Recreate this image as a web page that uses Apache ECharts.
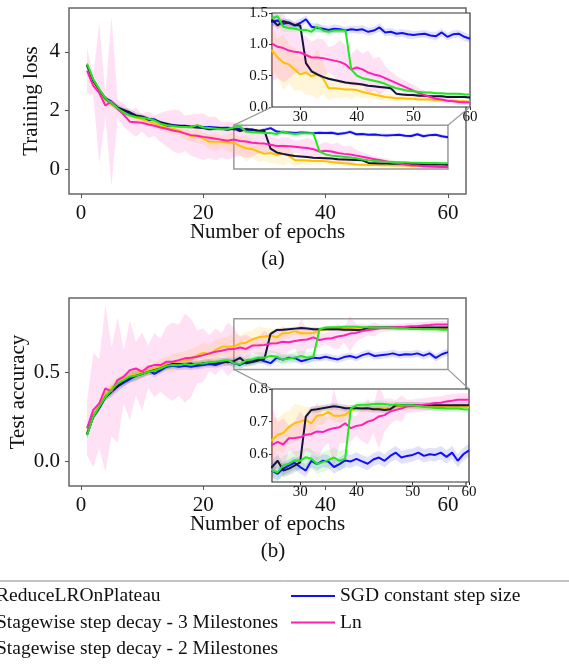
<!DOCTYPE html>
<html>
<head>
<meta charset="utf-8">
<script src="https://cdn.jsdelivr.net/npm/echarts@6/dist/echarts.min.js"></script>
<style>
  html, body { margin: 0; padding: 0; background: #fff; }
  #main { width: 569px; height: 667px; }
</style>
</head>
<body>
<div id="main"></div>
<script>
// names of the five schedules
const names = [
  "ReduceLROnPlateau",
  "Stagewise step decay - 3 Milestones",
  "Stagewise step decay - 2 Milestones",
  "SGD constant step size",
  "Ln"
];
const colors = ["#ffc000", "#14143c", "#22e622", "#1010f0", "#ff1fb4"];
const bandColors = [
  "rgba(255,200,40,0.18)", "rgba(40,40,60,0.15)", "rgba(40,230,40,0.15)",
  "rgba(40,40,240,0.14)", "rgba(255,80,200,0.17)"
];

// (a) training loss, epochs 1..60
const lossRLR = [3.5,3.0,2.68,2.35,2.22,2.08,1.94,1.82,1.76,1.7,1.62,1.56,1.48,1.42,1.38,1.32,1.22,1.12,1.14,1.04,0.93,0.93,0.93,0.9,0.9,0.79,0.71,0.68,0.6,0.52,0.55,0.49,0.52,0.46,0.3,0.3,0.29,0.28,0.28,0.27,0.24,0.22,0.2,0.18,0.16,0.15,0.14,0.14,0.13,0.13,0.12,0.12,0.12,0.11,0.11,0.1,0.1,0.09,0.09,0.08];
const lossS3 = [3.55,3.02,2.7,2.4,2.25,2.1,2.02,1.94,1.83,1.8,1.72,1.68,1.6,1.55,1.5,1.48,1.46,1.44,1.42,1.4,1.36,1.38,1.38,1.34,1.39,1.3,1.37,1.34,1.31,1.3,0.7,0.57,0.52,0.48,0.45,0.43,0.41,0.39,0.38,0.37,0.36,0.34,0.33,0.32,0.31,0.3,0.21,0.2,0.19,0.19,0.18,0.18,0.17,0.17,0.17,0.16,0.16,0.16,0.16,0.15];
const lossS2 = [3.6,3.07,2.73,2.42,2.25,2.08,1.92,1.83,1.78,1.75,1.72,1.66,1.55,1.5,1.47,1.45,1.44,1.43,1.5,1.42,1.4,1.38,1.36,1.37,1.42,1.45,1.28,1.26,1.25,1.23,1.23,1.2,1.28,1.22,1.2,1.22,1.22,1.22,0.6,0.5,0.46,0.44,0.42,0.4,0.37,0.33,0.3,0.28,0.26,0.25,0.24,0.23,0.23,0.22,0.22,0.21,0.21,0.21,0.2,0.2];
const lossSGD = [3.55,3.05,2.7,2.42,2.3,2.1,2.0,1.88,1.8,1.75,1.66,1.7,1.58,1.48,1.5,1.47,1.48,1.45,1.47,1.43,1.44,1.42,1.4,1.41,1.36,1.38,1.33,1.35,1.3,1.34,1.4,1.28,1.26,1.25,1.23,1.25,1.24,1.22,1.24,1.23,1.24,1.2,1.22,1.27,1.19,1.2,1.17,1.18,1.16,1.15,1.16,1.17,1.14,1.13,1.19,1.12,1.16,1.17,1.12,1.09];
const lossLn = [3.36,2.85,2.6,2.17,2.31,2.06,1.85,1.62,1.6,1.58,1.52,1.48,1.42,1.38,1.32,1.28,1.22,1.16,1.14,1.1,1.07,1.04,1.0,0.97,1.01,0.96,0.94,0.9,0.88,0.87,0.83,0.79,0.79,0.78,0.76,0.74,0.72,0.68,0.6,0.63,0.6,0.55,0.52,0.5,0.46,0.42,0.38,0.34,0.3,0.26,0.22,0.19,0.16,0.13,0.12,0.1,0.09,0.08,0.075,0.07];

// (a) spread around each loss curve
const lossStdRLR = [0.1,0.1,0.12,0.1,0.12,0.1,0.12,0.1,0.12,0.1,0.15,0.12,0.18,0.15,0.2,0.15,0.2,0.18,0.25,0.2,0.25,0.3,0.2,0.3,0.35,0.3,0.45,0.3,0.35,0.25,0.35,0.3,0.4,0.25,0.2,0.15,0.15,0.12,0.15,0.1,0.1,0.08,0.08,0.07,0.06,0.05,0.05,0.04,0.04,0.04,0.03,0.03,0.03,0.03,0.03,0.02,0.02,0.02,0.02,0.02];
const lossStdS3 = [0.05,0.05,0.06,0.08,0.1,0.12,0.1,0.12,0.1,0.08,0.08,0.07,0.06,0.06,0.05,0.05,0.05,0.05,0.05,0.05,0.05,0.05,0.05,0.05,0.08,0.06,0.05,0.05,0.04,0.04,0.03,0.03,0.03,0.02,0.02,0.02,0.02,0.02,0.02,0.02,0.02,0.02,0.02,0.02,0.02,0.02,0.02,0.02,0.02,0.02,0.02,0.02,0.02,0.02,0.02,0.02,0.02,0.02,0.02,0.02];
const lossStdS2 = [0.05,0.05,0.05,0.06,0.08,0.08,0.07,0.06,0.06,0.06,0.05,0.05,0.05,0.05,0.05,0.05,0.05,0.05,0.06,0.05,0.05,0.05,0.05,0.05,0.06,0.15,0.08,0.06,0.05,0.05,0.05,0.05,0.08,0.05,0.05,0.05,0.04,0.04,0.03,0.03,0.02,0.02,0.02,0.02,0.02,0.02,0.02,0.02,0.02,0.02,0.02,0.02,0.02,0.02,0.02,0.02,0.02,0.02,0.02,0.02];
const lossStdSGD = [0.05,0.05,0.05,0.06,0.08,0.08,0.07,0.06,0.06,0.06,0.05,0.05,0.05,0.05,0.05,0.05,0.05,0.05,0.05,0.05,0.05,0.05,0.06,0.06,0.06,0.06,0.06,0.06,0.06,0.07,0.06,0.06,0.07,0.06,0.06,0.07,0.06,0.06,0.06,0.06,0.07,0.06,0.06,0.07,0.06,0.06,0.06,0.06,0.07,0.06,0.06,0.06,0.06,0.07,0.06,0.06,0.06,0.06,0.07,0.06];
const lossStdLn = [0.8,0.3,2.4,0.4,2.9,0.3,0.4,0.35,0.5,0.3,0.45,0.35,0.5,0.6,0.7,0.75,0.6,0.7,0.75,0.8,0.7,0.75,0.6,0.65,0.6,0.5,0.55,0.45,0.35,0.3,0.3,0.25,0.3,0.3,0.2,0.25,0.35,0.3,0.25,0.3,0.25,0.35,0.25,0.3,0.2,0.15,0.12,0.1,0.1,0.1,0.08,0.07,0.06,0.05,0.05,0.05,0.04,0.04,0.04,0.04];

// (b) test accuracy, epochs 1..60
const accRLR = [0.16,0.26,0.31,0.38,0.41,0.44,0.46,0.48,0.49,0.5,0.51,0.52,0.53,0.545,0.55,0.56,0.565,0.57,0.595,0.608,0.6,0.624,0.642,0.642,0.643,0.66,0.665,0.683,0.695,0.7,0.705,0.695,0.718,0.72,0.73,0.718,0.718,0.72,0.735,0.74,0.742,0.742,0.742,0.742,0.74,0.742,0.745,0.745,0.745,0.745,0.745,0.745,0.745,0.745,0.745,0.745,0.745,0.745,0.745,0.745];
const accS3 = [0.15,0.25,0.3,0.36,0.39,0.42,0.45,0.47,0.48,0.49,0.5,0.51,0.52,0.535,0.545,0.545,0.545,0.548,0.54,0.55,0.552,0.548,0.56,0.555,0.561,0.58,0.55,0.556,0.565,0.575,0.715,0.736,0.738,0.741,0.744,0.747,0.745,0.741,0.741,0.741,0.74,0.741,0.738,0.738,0.736,0.738,0.75,0.75,0.75,0.75,0.75,0.75,0.75,0.75,0.75,0.75,0.75,0.75,0.75,0.75];
const accS2 = [0.145,0.249,0.305,0.36,0.4,0.436,0.455,0.474,0.48,0.49,0.5,0.508,0.52,0.535,0.54,0.538,0.545,0.54,0.548,0.548,0.555,0.558,0.562,0.567,0.55,0.545,0.566,0.571,0.581,0.58,0.591,0.586,0.57,0.576,0.582,0.59,0.58,0.586,0.74,0.75,0.752,0.752,0.754,0.755,0.754,0.752,0.752,0.75,0.75,0.75,0.748,0.745,0.744,0.742,0.742,0.74,0.74,0.74,0.738,0.737];
const accSGD = [0.15,0.25,0.3,0.36,0.39,0.42,0.44,0.46,0.48,0.49,0.51,0.49,0.51,0.53,0.535,0.53,0.535,0.53,0.535,0.54,0.545,0.54,0.55,0.56,0.55,0.54,0.556,0.565,0.574,0.561,0.55,0.58,0.57,0.58,0.578,0.561,0.57,0.581,0.578,0.586,0.578,0.571,0.584,0.59,0.58,0.595,0.605,0.59,0.595,0.598,0.605,0.595,0.6,0.598,0.605,0.592,0.605,0.58,0.6,0.612];
const accLn = [0.184,0.286,0.324,0.408,0.39,0.455,0.474,0.511,0.52,0.502,0.53,0.539,0.539,0.558,0.558,0.567,0.577,0.58,0.586,0.595,0.605,0.614,0.62,0.628,0.629,0.638,0.63,0.649,0.65,0.652,0.66,0.662,0.67,0.668,0.675,0.68,0.683,0.695,0.68,0.687,0.69,0.7,0.705,0.716,0.72,0.731,0.736,0.74,0.747,0.748,0.75,0.752,0.754,0.757,0.758,0.762,0.764,0.767,0.767,0.767];

// (b) spread around each accuracy curve
const accStdRLR = [0.02,0.03,0.03,0.03,0.03,0.03,0.03,0.03,0.03,0.03,0.03,0.03,0.04,0.04,0.05,0.05,0.05,0.06,0.05,0.06,0.05,0.06,0.05,0.06,0.07,0.05,0.06,0.05,0.06,0.05,0.04,0.05,0.03,0.03,0.02,0.02,0.02,0.02,0.01,0.01,0.01,0.01,0.01,0.01,0.01,0.01,0.01,0.01,0.01,0.01,0.01,0.01,0.01,0.01,0.01,0.01,0.01,0.01,0.01,0.01];
const accStdS3 = [0.02,0.02,0.02,0.02,0.03,0.03,0.03,0.03,0.03,0.02,0.02,0.02,0.02,0.02,0.02,0.02,0.02,0.02,0.02,0.02,0.02,0.02,0.02,0.02,0.02,0.02,0.02,0.02,0.02,0.02,0.01,0.01,0.01,0.01,0.01,0.01,0.01,0.01,0.01,0.01,0.01,0.01,0.01,0.01,0.01,0.01,0.01,0.01,0.01,0.01,0.01,0.01,0.01,0.01,0.01,0.01,0.01,0.01,0.01,0.01];
const accStdS2 = [0.02,0.02,0.02,0.02,0.03,0.03,0.03,0.03,0.03,0.02,0.02,0.02,0.02,0.02,0.02,0.02,0.02,0.02,0.02,0.02,0.02,0.02,0.02,0.02,0.03,0.03,0.03,0.03,0.03,0.03,0.03,0.03,0.03,0.03,0.03,0.03,0.03,0.03,0.01,0.01,0.01,0.01,0.01,0.01,0.01,0.01,0.01,0.01,0.01,0.01,0.01,0.01,0.01,0.01,0.01,0.01,0.01,0.01,0.01,0.01];
const accStdSGD = [0.02,0.02,0.02,0.02,0.02,0.02,0.02,0.02,0.02,0.02,0.02,0.02,0.02,0.02,0.02,0.02,0.02,0.02,0.02,0.02,0.02,0.02,0.02,0.02,0.02,0.02,0.02,0.02,0.02,0.02,0.02,0.02,0.02,0.02,0.02,0.02,0.02,0.02,0.02,0.02,0.02,0.02,0.02,0.02,0.02,0.02,0.02,0.02,0.02,0.02,0.02,0.02,0.02,0.02,0.02,0.02,0.02,0.02,0.02,0.02];
const accStdLn = [0.15,0.32,0.25,0.47,0.25,0.35,0.15,0.28,0.15,0.22,0.12,0.18,0.15,0.2,0.22,0.2,0.25,0.22,0.15,0.15,0.1,0.13,0.1,0.15,0.12,0.06,0.08,0.04,0.05,0.08,0.05,0.06,0.09,0.05,0.04,0.12,0.05,0.06,0.04,0.03,0.05,0.07,0.04,0.1,0.05,0.04,0.03,0.04,0.02,0.02,0.02,0.02,0.02,0.02,0.02,0.02,0.02,0.02,0.02,0.02];

const lossMeans = [lossRLR, lossS3, lossS2, lossSGD, lossLn];
const lossStds = [lossStdRLR, lossStdS3, lossStdS2, lossStdSGD, lossStdLn];
const accMeans = [accRLR, accS3, accS2, accSGD, accLn];
const accStds = [accStdRLR, accStdS3, accStdS2, accStdSGD, accStdLn];

// axis ranges / ticks
const epochRange = [-1.95, 62.95];
const epochTicks = [0, 20, 40, 60];
const lossRange = [-0.85, 5.5];
const lossTicks = [0, 2, 4];
const accRange = [-0.14, 0.916];
const accTicks = [0, 0.5];
const zoomEpochs = [25, 60];
const zoomEpochTicks = [30, 40, 50, 60];
const zoomLoss = [0, 1.5];
const zoomLossTicks = [0, 0.5, 1.0, 1.5];
const zoomAcc = [0.515, 0.8];
const zoomAccTicks = [0.6, 0.7, 0.8];

const FONT = "Liberation Serif";
const drawOrder = [3, 0, 1, 4, 2]; // which curve goes on top

function xAxisMain(gi) {
  return {
    type: "value", gridIndex: gi, min: epochRange[0], max: epochRange[1],
    name: "Number of epochs", nameLocation: "middle", nameGap: 28, nameMoveOverlap: false,
    nameTextStyle: { fontFamily: FONT, fontSize: 21, color: "#111" },
    axisLine: { show: false, onZero: false },
    axisTick: { show: true, length: 4, customValues: epochTicks, lineStyle: { color: "#555" } },
    axisLabel: { customValues: epochTicks, fontFamily: FONT, fontSize: 21, color: "#111", margin: 9 },
    splitLine: { show: false }
  };
}
function yAxisMain(gi, range, ticks, title, gap, fmt) {
  return {
    type: "value", gridIndex: gi, min: range[0], max: range[1],
    name: title, nameLocation: "middle", nameGap: gap, nameMoveOverlap: false,
    nameTextStyle: { fontFamily: FONT, fontSize: 21, color: "#111" },
    axisLine: { show: false, onZero: false },
    axisTick: { show: true, length: 4, customValues: ticks, lineStyle: { color: "#555" } },
    axisLabel: { customValues: ticks, fontFamily: FONT, fontSize: 21, color: "#111", margin: 9, formatter: fmt },
    splitLine: { show: false }
  };
}
function xAxisInset(gi) {
  return {
    type: "value", gridIndex: gi, min: zoomEpochs[0], max: zoomEpochs[1], z: 8,
    axisLine: { show: false, onZero: false },
    axisTick: { show: true, length: 3, customValues: zoomEpochTicks, lineStyle: { color: "#333" } },
    axisLabel: { customValues: zoomEpochTicks, fontFamily: FONT, fontSize: 15, color: "#111", margin: 3 },
    splitLine: { show: false }
  };
}
function yAxisInset(gi, range, ticks) {
  return {
    type: "value", gridIndex: gi, min: range[0], max: range[1], z: 8,
    axisLine: { show: false, onZero: false },
    axisTick: { show: true, length: 3, customValues: ticks, lineStyle: { color: "#333" } },
    axisLabel: { customValues: ticks, fontFamily: FONT, fontSize: 15, color: "#111", margin: 4,
      formatter: v => v.toFixed(1) },
    splitLine: { show: false }
  };
}

// shaded band (mean ± spread) as one polygon through the axis scales
function band(k, means, stds, axisIdx, z) {
  const m = means[k], s = stds[k];
  return {
    type: "custom", xAxisIndex: axisIdx, yAxisIndex: axisIdx, z: z, silent: true, clip: true,
    data: [[1, m[0]]],
    renderItem: function (params, api) {
      const upper = m.map((v, i) => api.coord([i + 1, v + s[i]]));
      const lower = m.map((v, i) => api.coord([i + 1, v - s[i]])).reverse();
      return {
        type: "polygon",
        shape: { points: upper.concat(lower) },
        style: { fill: bandColors[k], stroke: null }
      };
    }
  };
}
function lines(means, axisIdx, z, mark) {
  return drawOrder.map((k, j) => {
    const s = {
      name: names[k], type: "line", xAxisIndex: axisIdx, yAxisIndex: axisIdx,
      data: means[k].map((v, i) => [i + 1, v]),
      symbol: "none", color: colors[k],
      lineStyle: { width: 2, color: colors[k] }, z: z + 1
    };
    if (mark && j === 0) s.markArea = mark;
    return s;
  });
}

const series = [];
const panels = [
  { means: lossMeans, stds: lossStds, main: 0, inset: 1, zoomY: zoomLoss },
  { means: accMeans, stds: accStds, main: 2, inset: 3, zoomY: zoomAcc }
];
panels.forEach(p => {
  [0, 1, 2, 3, 4].forEach(k => series.push(band(k, p.means, p.stds, p.main, 2)));
  series.push(...lines(p.means, p.main, 2, {
    silent: true,
    itemStyle: { color: "rgba(0,0,0,0)", borderColor: "#9a9a9a", borderWidth: 1.5 },
    data: [[{ xAxis: zoomEpochs[0], yAxis: p.zoomY[0] }, { xAxis: zoomEpochs[1], yAxis: p.zoomY[1] }]]
  }));
  [0, 1, 2, 3, 4].forEach(k => series.push(band(k, p.means, p.stds, p.inset, 6)));
  series.push(...lines(p.means, p.inset, 6, null));
});

const gridBase = { show: true, backgroundColor: "#fff", outerBoundsMode: "none", containLabel: false };
const chart = echarts.init(document.getElementById("main"), null, { renderer: "canvas" });
chart.setOption({
  animation: false,
  backgroundColor: "#fff",
  textStyle: { fontFamily: FONT },
  grid: [
    Object.assign({ left: 69, top: 8, width: 397, height: 186, borderColor: "#666", borderWidth: 1.5, z: 0 }, gridBase),
    Object.assign({ left: 272, top: 13, width: 198, height: 94, borderColor: "#333", borderWidth: 1.2, z: 4 }, gridBase),
    Object.assign({ left: 69, top: 298, width: 397, height: 188, borderColor: "#666", borderWidth: 1.5, z: 0 }, gridBase),
    Object.assign({ left: 272, top: 389, width: 197, height: 93, borderColor: "#333", borderWidth: 1.2, z: 4 }, gridBase)
  ],
  xAxis: [xAxisMain(0), xAxisInset(1), xAxisMain(2), xAxisInset(3)],
  yAxis: [
    yAxisMain(0, lossRange, lossTicks, "Training loss", 27),
    yAxisInset(1, zoomLoss, zoomLossTicks),
    yAxisMain(2, accRange, accTicks, "Test accuracy", 40, v => v.toFixed(1)),
    yAxisInset(3, zoomAcc, zoomAccTicks)
  ],
  title: [
    { text: "(a)", left: 268, top: 244, textAlign: "center", textStyle: { fontFamily: FONT, fontSize: 21, fontWeight: "normal", color: "#111" } },
    { text: "(b)", left: 268, top: 536, textAlign: "center", textStyle: { fontFamily: FONT, fontSize: 21, fontWeight: "normal", color: "#111" } }
  ],
  legend: [
    {
      data: names.slice(0, 3), orient: "vertical", left: -50, top: 586, padding: 0,
      icon: "rect", itemWidth: 41, itemHeight: 2, itemGap: 6.5,
      textStyle: { fontFamily: FONT, fontSize: 19.5, color: "#111", lineHeight: 20 }
    },
    {
      data: names.slice(3), orient: "vertical", left: 291, top: 586, padding: 0,
      icon: "rect", itemWidth: 44, itemHeight: 2, itemGap: 6.5,
      textStyle: { fontFamily: FONT, fontSize: 19.5, color: "#111", lineHeight: 20 }
    }
  ],
  series: series
});

// zoom connectors and legend frame edge
const px = (g, v) => chart.convertToPixel({ gridIndex: g }, v);
const link = (a, b) => ({
  type: "line", z: 20, silent: true,
  shape: { x1: a[0], y1: a[1], x2: b[0], y2: b[1] },
  style: { stroke: "#9a9a9a", lineWidth: 1.2 }
});
chart.setOption({
  graphic: [
    link(px(0, [zoomEpochs[0], zoomLoss[1]]), px(1, [zoomEpochs[0], zoomLoss[0]])),
    link(px(0, [zoomEpochs[1], zoomLoss[1]]), px(1, [zoomEpochs[1], zoomLoss[0]])),
    link(px(2, [zoomEpochs[0], zoomAcc[0]]), px(3, [zoomEpochs[0], zoomAcc[1]])),
    link(px(2, [zoomEpochs[1], zoomAcc[0]]), px(3, [zoomEpochs[1], zoomAcc[1]])),
    { type: "line", silent: true, shape: { x1: 0, y1: 581, x2: 569, y2: 581 }, style: { stroke: "#888", lineWidth: 1 } }
  ]
});
</script>
</body>
</html>
